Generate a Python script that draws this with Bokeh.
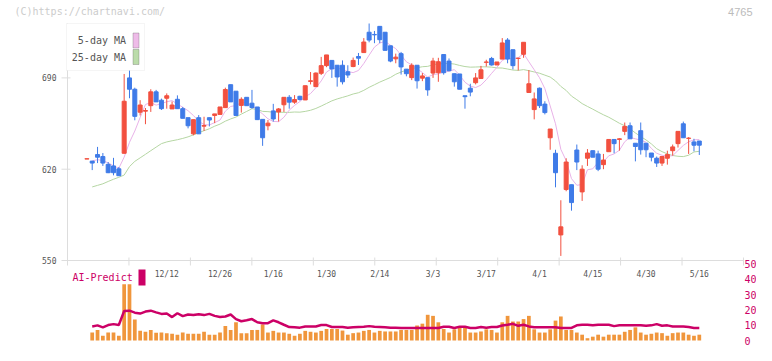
import numpy as np
import pandas as pd
from bokeh.plotting import figure
from bokeh.models import ColumnDataSource, Range1d, Label, BoxAnnotation
from bokeh.core.properties import value
from bokeh.embed import file_html
from bokeh.resources import INLINE

# ---------------- data ----------------
opens = [627.8, 626.2, 631.2, 629.7, 623.7, 622.5, 620.3, 632.2, 690.0, 681.3,
         663.7, 664.5, 668.7, 679.3, 672.9, 674.4, 666.2, 673.6, 666.4, 659.5,
         647.1, 659.5, 653.0, 659.5, 661.2, 662.0, 667.2, 684.8, 679.8, 668.9,
         675.1, 670.6, 667.7, 658.2, 653.3, 664.7, 663.9, 669.4, 675.1, 671.4,
         675.9, 673.1, 687.3, 683.3, 693.5, 699.4, 703.4, 699.7, 699.7, 694.7,
         698.7, 706.4, 709.4, 725.0, 723.3, 729.5, 725.0, 714.6, 704.6, 708.6,
         696.7, 690.2, 699.7, 689.8, 690.2, 693.7, 694.0, 707.9, 702.9, 693.2,
         693.0, 676.3, 682.1, 686.3, 689.5, 701.9, 704.9, 699.9, 704.4, 719.0,
         711.6, 704.9, 708.1, 678.8, 665.7, 682.1, 669.9, 644.1, 632.2, 569.6,
         604.4, 608.1, 634.7, 602.6, 628.4, 634.2, 631.7, 623.5, 633.4, 642.8,
         642.8, 649.0, 653.3, 639.9, 649.5, 639.9, 632.4, 628.4, 624.7, 628.4,
         634.2, 639.6, 654.8, 643.6, 640.9, 641.6]
highs = [628.0, 626.2, 637.1, 632.4, 625.5, 628.7, 621.7, 693.0, 709.9, 682.5,
         672.9, 666.9, 681.3, 680.8, 674.1, 678.1, 671.9, 676.6, 667.7, 659.5,
         658.0, 661.5, 660.2, 659.5, 662.4, 667.7, 682.5, 684.8, 679.8, 675.1,
         675.1, 680.8, 667.7, 658.2, 657.7, 670.1, 666.9, 675.1, 676.8, 676.8,
         676.3, 684.0, 694.5, 694.2, 706.1, 707.6, 703.4, 699.7, 703.4, 699.7,
         705.6, 709.1, 720.5, 731.7, 726.0, 729.5, 725.0, 714.6, 708.6, 709.9,
         696.7, 701.2, 699.7, 693.7, 690.2, 705.4, 705.4, 707.9, 704.9, 693.2,
         693.0, 676.3, 685.5, 693.7, 699.2, 703.9, 706.1, 702.2, 720.5, 720.5,
         711.6, 705.4, 717.3, 696.0, 678.8, 682.6, 672.1, 650.8, 634.9, 596.2,
         628.4, 608.1, 638.9, 623.0, 635.4, 634.2, 634.2, 631.7, 642.8, 642.8,
         643.8, 655.8, 655.8, 639.9, 655.8, 639.9, 632.4, 629.7, 629.7, 634.2,
         638.9, 649.0, 656.5, 644.6, 643.3, 641.6]
lows = [627.8, 619.3, 624.7, 622.5, 617.0, 615.3, 615.0, 632.0, 674.4, 657.5,
        661.2, 654.5, 663.9, 671.6, 665.4, 666.4, 666.2, 666.4, 659.0, 651.3,
        646.0, 647.1, 649.3, 652.8, 655.3, 662.0, 667.0, 671.6, 661.2, 663.4,
        668.7, 666.4, 657.7, 637.9, 649.8, 656.5, 656.5, 663.9, 666.4, 670.1,
        672.6, 673.0, 685.0, 683.3, 692.2, 698.2, 690.0, 683.3, 685.0, 690.0,
        698.2, 699.9, 709.4, 717.3, 716.6, 716.6, 711.0, 702.0, 701.2, 692.5,
        691.2, 688.3, 681.8, 687.5, 676.3, 690.0, 687.0, 692.5, 695.0, 683.3,
        681.3, 666.4, 675.9, 685.0, 689.5, 698.7, 699.4, 699.9, 704.4, 701.2,
        696.5, 695.7, 705.4, 678.8, 658.2, 666.9, 662.0, 634.9, 606.1, 553.5,
        603.1, 588.2, 619.3, 595.7, 622.5, 629.2, 618.5, 620.0, 633.4, 632.2,
        634.2, 646.1, 643.3, 626.0, 631.2, 629.2, 626.0, 621.7, 622.5, 623.5,
        630.4, 636.6, 644.1, 631.7, 633.7, 630.9]
closes = [628.0, 624.7, 629.2, 624.7, 617.3, 617.3, 615.0, 672.1, 681.3, 660.5,
          669.2, 665.0, 679.3, 671.6, 666.4, 676.3, 669.2, 666.4, 659.0, 653.3,
          658.0, 647.1, 653.5, 657.7, 662.4, 667.7, 681.1, 671.6, 661.2, 673.6,
          668.7, 667.2, 658.0, 644.1, 655.3, 658.5, 666.2, 675.1, 671.4, 673.4,
          673.4, 684.0, 687.8, 693.7, 699.4, 707.6, 696.9, 690.7, 687.0, 692.2,
          703.4, 705.1, 717.5, 719.0, 723.0, 719.3, 711.1, 702.9, 705.9, 698.4,
          693.2, 699.7, 687.8, 691.5, 680.8, 702.9, 702.4, 694.0, 695.5, 687.0,
          681.3, 675.6, 679.1, 690.0, 696.2, 702.2, 699.9, 702.2, 716.8, 704.4,
          699.4, 705.1, 717.3, 685.5, 673.9, 668.7, 663.4, 650.8, 617.3, 575.8,
          625.5, 594.4, 625.5, 620.0, 632.4, 629.2, 620.0, 627.0, 642.8, 639.6,
          643.3, 652.8, 643.3, 637.4, 634.9, 634.9, 629.2, 624.7, 629.7, 631.2,
          637.1, 649.0, 644.1, 643.8, 638.4, 638.4]

# 25-day MA for the first days (earlier history is not on the chart)
ma25_early = [606.4, 607.6, 608.8, 610.6, 612.3, 613.8, 615.5, 622.0, 626.0, 628.7,
              631.4, 634.2, 636.9, 639.6, 640.9, 641.8, 642.6, 643.6, 644.8, 646.3,
              648.0, 649.5, 651.0]

# AI-Predict panel (days 1..115)
ai_bars = [5.2, 6.9, 3.1, 5.2, 5.2, 3.1, 36.7, 36.7, 13.8, 6.3,
           5.7, 6.9, 5.0, 5.2, 4.8, 4.4, 3.8, 5.2, 4.4, 4.4,
           4.4, 5.7, 3.8, 3.8, 5.2, 9.4, 6.9, 11.9, 4.8, 4.8,
           6.9, 6.9, 10.5, 5.2, 6.3, 5.2, 5.2, 4.4, 3.1, 4.4,
           6.3, 5.7, 5.2, 6.3, 7.5, 7.5, 7.5, 6.5, 3.8, 4.8,
           5.2, 6.3, 6.9, 5.2, 6.3, 5.9, 5.9, 5.9, 6.9, 6.9,
           6.9, 9.8, 11.0, 16.8, 16.1, 11.9, 7.5, 5.2, 7.3, 9.2,
           9.2, 5.2, 5.2, 5.9, 7.3, 6.9, 5.2, 11.9, 16.1, 12.4,
           12.4, 14.0, 16.1, 7.3, 5.2, 5.2, 7.3, 13.0, 15.7, 6.9,
           6.9, 5.2, 3.8, 1.5, 2.5, 3.8, 2.5, 3.8, 3.8, 3.8,
           5.7, 6.9, 8.6, 5.2, 3.8, 4.4, 5.2, 4.8, 3.1, 4.8,
           5.2, 5.2, 3.8, 3.1, 3.8]
ai_line = [9.2, 9.9, 8.6, 10.1, 10.7, 10.1, 19.3, 19.5, 18.2, 17.6,
           18.9, 19.5, 18.4, 17.4, 17.6, 15.3, 17.8, 15.9, 17.0, 16.6,
           17.2, 16.6, 17.4, 16.1, 15.3, 15.7, 17.0, 14.0, 12.6, 13.2,
           14.0, 11.9, 11.3, 11.3, 13.2, 11.9, 10.3, 8.8, 8.6, 8.4,
           9.2, 9.2, 9.2, 10.1, 10.1, 8.8, 8.8, 8.8, 8.4, 8.6,
           8.8, 9.0, 9.4, 9.0, 8.8, 8.6, 8.4, 8.4, 8.2, 8.2,
           8.2, 8.2, 8.2, 8.2, 8.2, 8.2, 9.0, 9.0, 8.2, 9.0,
           9.0, 8.2, 8.2, 8.8, 8.4, 8.8, 8.8, 9.8, 10.3, 10.9,
           9.6, 10.3, 9.2, 8.6, 8.6, 8.6, 8.6, 8.6, 8.2, 8.2,
           8.2, 9.9, 10.3, 10.3, 9.9, 10.3, 10.3, 10.3, 9.4, 9.9,
           9.9, 9.9, 9.9, 9.9, 9.6, 9.9, 10.7, 9.6, 9.9, 9.2,
           9.2, 9.2, 8.8, 8.2, 8.2]

tick_idx = [15, 25, 35, 45, 55, 65, 75, 85, 95, 105, 115]
tick_labels = ["12/12", "12/26", "1/16", "1/30", "2/14", "3/3",
               "3/17", "4/1", "4/15", "4/30", "5/16"]
price_ticks = [550, 620, 690]
ai_ticks = [0, 10, 20, 30, 40, 50]

# ---------------- derived series ----------------
n = len(closes)
idx = np.arange(n)
cl = pd.Series(closes)
ma5 = cl.rolling(5, min_periods=2).mean().to_numpy()
ma25 = cl.rolling(25).mean().to_numpy()
ma25[1:1 + len(ma25_early)] = ma25_early

RED, BLUE = "#f2503f", "#3f7be8"
colors = [RED if c >= o else BLUE for o, c in zip(opens, closes)]
src = ColumnDataSource(dict(
    x=idx, low=lows, high=highs,
    top=np.maximum(opens, closes), bottom=np.minimum(opens, closes),
    color=colors))

# ---------------- layout (canvas pixels) ----------------
W, H = 756, 345
PLOT_L, PLOT_R = 67, 743          # price-panel left / right edge
TOP, BASE = 23, 260               # price-panel top / baseline
AI0, AI_PPU = 340, 1.53           # AI panel zero line, pixels per unit
x_lo, x_hi = -3.64, (n - 1) + 8.3  # slots shown in the panel
price_top = max(highs)
price_lo = price_ticks[0]

pps = (PLOT_R - PLOT_L) / (x_hi - x_lo)
ppu = (BASE - TOP) / (price_top - price_lo)

p = figure(width=W, height=H, output_backend="svg", toolbar_location=None,
           x_axis_location=None, y_axis_location=None,
           x_range=Range1d(x_lo - PLOT_L / pps, x_hi + (W - PLOT_R) / pps),
           y_range=Range1d(price_lo - (H - BASE) / ppu, price_top + TOP / ppu),
           min_border=0)
p.extra_y_ranges = {"ai": Range1d(-(H - AI0) / AI_PPU, AI0 / AI_PPU)}
p.outline_line_color = None
p.background_fill_color = "white"
p.border_fill_color = "white"
p.grid.visible = False

mono = "DejaVu Sans Mono"
AXIS = "#dddddd"
GREY = "#555555"
CRIMSON = "#cc0066"

# ---- price axis (left) ----
p.segment(x0=[x_lo], x1=[x_lo], y0=[price_lo], y1=[price_top],
          line_color=AXIS, line_width=1)
p.segment(x0=[x_lo - 6 / pps] * 3, x1=[x_lo + 3 / pps] * 3,
          y0=price_ticks, y1=price_ticks, line_color=AXIS, line_width=1)
p.text(x=[x_lo] * 3, y=price_ticks, text=[str(v) for v in price_ticks],
       x_offset=-11, text_font=value(mono), text_font_size="8px",
       text_color=GREY, text_align="right", text_baseline="middle")

# ---- date axis ----
p.segment(x0=[x_lo], x1=[x_hi], y0=[price_lo], y1=[price_lo],
          line_color=AXIS, line_width=1)
xt = np.linspace(x_lo, x_hi, 12)
p.segment(x0=xt, x1=xt, y0=price_lo + 3 / ppu, y1=price_lo - 5 / ppu,
          line_color=AXIS, line_width=1)
p.text(x=tick_idx, y=[price_lo] * len(tick_idx), text=tick_labels,
       y_offset=14, text_font=value(mono), text_font_size="8px",
       text_color=GREY, text_align="center", text_baseline="middle")

# ---- AI-Predict panel ----
p.vbar(x=idx[1:], top=ai_bars, bottom=0, width=0.7, y_range_name="ai",
       fill_color="#f0963c", line_color=None)
p.line(idx[1:], ai_line, y_range_name="ai", line_color=CRIMSON, line_width=2.5)
p.text(x=[x_hi] * len(ai_ticks), y=ai_ticks, text=[str(v) for v in ai_ticks],
       y_range_name="ai", x_offset=1, text_font=value(mono),
       text_font_size="10px", text_color=CRIMSON, text_align="left",
       text_baseline="middle")

# ---- moving averages ----
p.line(idx[1:], ma25[1:], line_color="#b5d6a3", line_width=1)
p.line(idx[1:], ma5[1:], line_color="#e8b2e8", line_width=1)

# ---- candles ----
p.segment(x0="x", y0="low", x1="x", y1="high", line_color="color",
          line_width=1, source=src)
p.vbar(x="x", width=0.75, top="top", bottom="bottom", fill_color="color",
       line_color="color", line_width=1, source=src)


def box(l, r, t, b, **kw):
    p.add_layout(BoxAnnotation(left=l, right=r, top=H - t, bottom=H - b,
                               left_units="screen", right_units="screen",
                               top_units="screen", bottom_units="screen",
                               fill_alpha=1.0, **kw))


def label(x, y, text, **kw):
    p.add_layout(Label(x=x, y=H - y, x_units="screen", y_units="screen",
                       text=text, text_baseline="middle", **kw))


# legend box (label left, swatch right)
box(PLOT_L - 1, PLOT_L + 77, TOP, TOP + 47, fill_color="white",
    line_color=AXIS, line_width=1)
for lab, dy, col in [("5-day MA", 17, "#eebbe8"), ("25-day MA", 33.5, "#bbdcaa")]:
    label(PLOT_L + 58.5, TOP + dy, lab, text_align="right", text_font=mono,
          text_font_size="10px", text_color=GREY)
    box(PLOT_L + 65.5, PLOT_L + 71.5, TOP + dy - 7.5, TOP + dy + 7.5,
        fill_color=col, line_color=GREY, line_width=1)

# AI-Predict caption
AI_CAP = 277
label(PLOT_L + 5, AI_CAP, "AI-Predict", text_align="left", text_font=mono,
      text_font_size="10px", text_color=CRIMSON)
box(PLOT_L + 71, PLOT_L + 78, AI_CAP - 8, AI_CAP + 8, fill_color=CRIMSON,
    line_color=None)

# header texts
label(14, 11, "(C)https://chartnavi.com/", text_align="left", text_font=mono,
      text_font_size="10px", text_color="#cccccc")
label(752, 11, "4765", text_align="right", text_font="Liberation Sans",
      text_font_size="11px", text_color="#bbbbbb")

open("out.html", "w").write(file_html(p, INLINE))
